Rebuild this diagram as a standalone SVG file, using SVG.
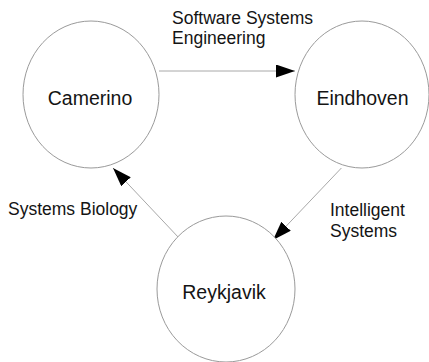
<svg xmlns="http://www.w3.org/2000/svg" width="429" height="362" viewBox="0 0 429 362">
  <style>
    .node ellipse { fill: #ffffff; stroke: #9a9a9a; stroke-width: 1; }
    .node text { font-family: "Liberation Sans", Arial, sans-serif; font-size: 19.5px; fill: #141414; text-anchor: middle; }
    .label { font-family: "Liberation Sans", Arial, sans-serif; font-size: 17.5px; fill: #141414; }
    .edge { fill: none; stroke: #a8a8a8; stroke-width: 1; marker-end: url(#head); }
  </style>
  <defs>
    <marker id="head" markerUnits="userSpaceOnUse" markerWidth="20" markerHeight="14" refX="19" refY="6.5" orient="auto">
      <path d="M0,0 L19,6.5 L0,13 z" fill="#000000"/>
    </marker>
  </defs>
  <rect width="429" height="362" fill="#ffffff"/>

  <g id="connectors">
    <line class="edge" x1="159" y1="71" x2="295" y2="71"/>
    <line class="edge" x1="341.4" y1="168" x2="273" y2="240"/>
    <line class="edge" x1="179" y1="238" x2="113" y2="168"/>
  </g>

  <g id="camerino" class="node">
    <ellipse cx="91" cy="94.5" rx="68" ry="73.5"/>
    <text x="90" y="105">Camerino</text>
  </g>
  <g id="eindhoven" class="node">
    <ellipse cx="362" cy="94.5" rx="67" ry="73.5"/>
    <text x="362.5" y="105">Eindhoven</text>
  </g>
  <g id="reykjavik" class="node">
    <ellipse cx="226" cy="289" rx="69" ry="73"/>
    <text x="224" y="299">Reykjavik</text>
  </g>

  <g id="edge-labels">
    <text class="label" x="172" y="24">Software Systems</text>
    <text class="label" x="172" y="44">Engineering</text>
    <text class="label" x="8" y="215">Systems Biology</text>
    <text class="label" x="330" y="216">Intelligent</text>
    <text class="label" x="330" y="237">Systems</text>
  </g>
</svg>
